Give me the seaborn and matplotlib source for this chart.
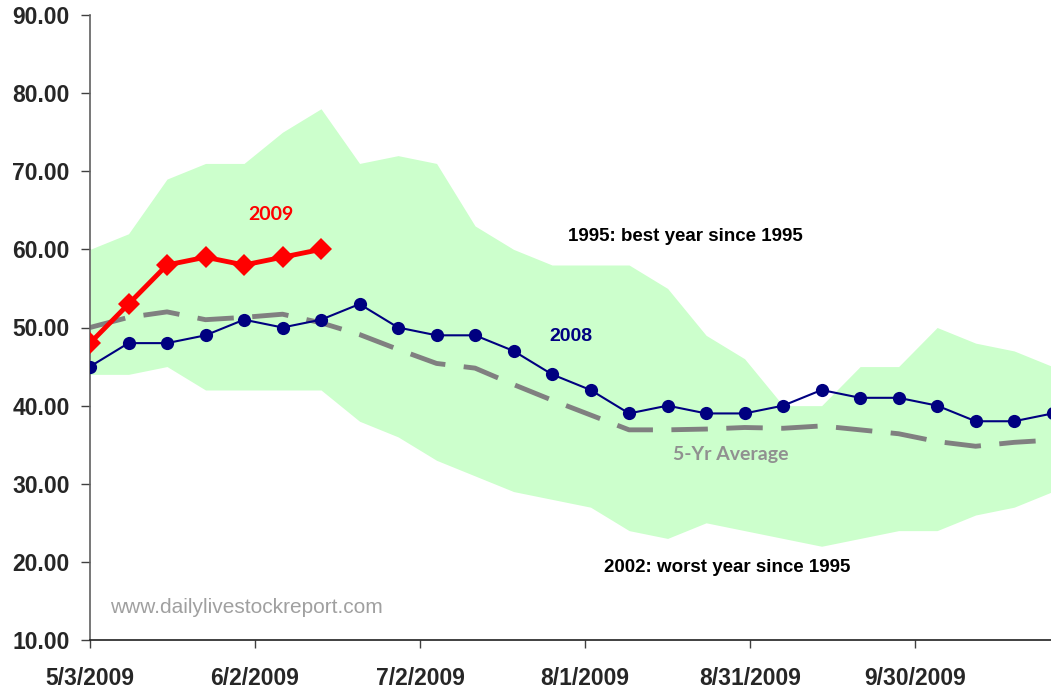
import numpy as np
import pandas as pd
import matplotlib
matplotlib.use("Agg")
import matplotlib.pyplot as plt
import seaborn as sns

# ---- data (weekly, starting 5/3/2009) ----
start_date = "2009-05-03"
n_weeks = 26
y2009 = [48, 53, 58, 59, 58, 59, 60]
y2008 = [45, 48, 48, 49, 51, 50, 51, 53, 50, 49, 49, 47, 44, 42, 39, 40, 39, 39,
         40, 42, 41, 41, 40, 38, 38, 39]
avg5 = [50.0, 51.3, 52.0, 51.0, 51.3, 51.7, 50.6, 49.1, 47.2, 45.4, 44.8, 42.7,
        40.7, 38.8, 36.9, 36.9, 37.0, 37.2, 37.1, 37.4, 36.9, 36.4, 35.4, 34.8,
        35.3, 35.6]
best1995 = [60, 62, 69, 71, 71, 75, 78, 71, 72, 71, 63, 60, 58, 58, 58, 55, 49,
            46, 40, 40, 45, 45, 50, 48, 47, 45]
worst2002 = [44, 44, 45, 42, 42, 42, 42, 38, 36, 33, 31, 29, 28, 27, 24, 23, 25,
             24, 23, 22, 23, 24, 24, 26, 27, 29]
tick_dates = ["2009-05-03", "2009-06-02", "2009-07-02", "2009-08-01",
              "2009-08-31", "2009-09-30"]
tick_labels = ["5/3/2009", "6/2/2009", "7/2/2009", "8/1/2009", "8/31/2009",
               "9/30/2009"]
y_ticks = [10, 20, 30, 40, 50, 60, 70, 80, 90]

dates = pd.date_range(start_date, periods=n_weeks, freq="7D")
df08 = pd.DataFrame({"date": dates, "v": y2008})
df09 = pd.DataFrame({"date": dates[:len(y2009)], "v": y2009})
dfavg = pd.DataFrame({"date": dates, "v": avg5})

sns.set_style("white")
plt.rcParams["font.family"] = ["Liberation Sans", "DejaVu Sans"]

fig = plt.figure(figsize=(10.51, 6.91), dpi=100)
ax = fig.add_axes([90 / 1051, 51 / 691, 1 - 90 / 1051, (640 - 15) / 691])

ax.fill_between(dates, worst2002, best1995, color="#CCFFCC", linewidth=0, zorder=1)
sns.lineplot(data=dfavg, x="date", y="v", ax=ax, color="#808080", linewidth=3.5,
             zorder=2)
ax.lines[-1].set_dashes((7.5, 3.8))
sns.lineplot(data=df08, x="date", y="v", ax=ax, color="#000080", linewidth=1.5,
             marker="o", markersize=9.5, markeredgewidth=0, zorder=3)
sns.lineplot(data=df09, x="date", y="v", ax=ax, color="#FF0000", linewidth=3.5,
             marker="D", markersize=11, markeredgewidth=0, zorder=4)

ax.set_xlim(pd.Timestamp(start_date), pd.Timestamp(start_date) + pd.Timedelta(days=174.7))
ax.set_ylim(10, 90)
ax.set_xticks(pd.to_datetime(tick_dates))
ax.set_xticklabels(tick_labels, fontsize=16.5, fontweight="bold")
ax.set_yticks(y_ticks)
ax.set_yticklabels([f"{v:.2f}" for v in y_ticks], fontsize=16.5, fontweight="bold")
ax.tick_params(axis="y", direction="out", length=6.5, width=1, color="#404040", pad=8,
               left=True)
ax.tick_params(axis="x", direction="out", length=6, width=1, color="#404040", pad=13.5,
               bottom=True)
ax.set_xlabel("")
ax.set_ylabel("")
for s in ["top", "right"]:
    ax.spines[s].set_visible(False)
ax.spines["left"].set_color("#606060")
ax.spines["bottom"].set_color("#202020")
ax.spines["left"].set_linewidth(1.2)
ax.spines["bottom"].set_linewidth(1.2)

def xd(days):
    return pd.Timestamp(start_date) + pd.Timedelta(days=days)

ax.text(xd(32.9), 64.4, "2009", color="#FF0000", fontsize=14, fontweight="bold",
        family=["Lato", "DejaVu Sans"], ha="center", va="center")
ax.text(xd(108.2), 61.6, "1995: best year since 1995", color="black", fontsize=13.5,
        fontweight="bold", ha="center", va="center")
ax.text(xd(87.5), 48.9, "2008", color="#000080", fontsize=14, fontweight="bold",
        ha="center", va="center")
ax.text(xd(116.4), 33.8, "5-Yr Average", color="#909090", fontsize=14,
        fontweight="bold", family=["Lato", "DejaVu Sans"], ha="center", va="center")
ax.text(xd(115.8), 19.3, "2002: worst year since 1995", color="black", fontsize=13.5,
        fontweight="bold", ha="center", va="center")
ax.text(xd(28.5), 14.2, "www.dailylivestockreport.com", color="#A0A0A0",
        fontsize=15, ha="center", va="center")

fig.savefig("out.png", dpi=100)
